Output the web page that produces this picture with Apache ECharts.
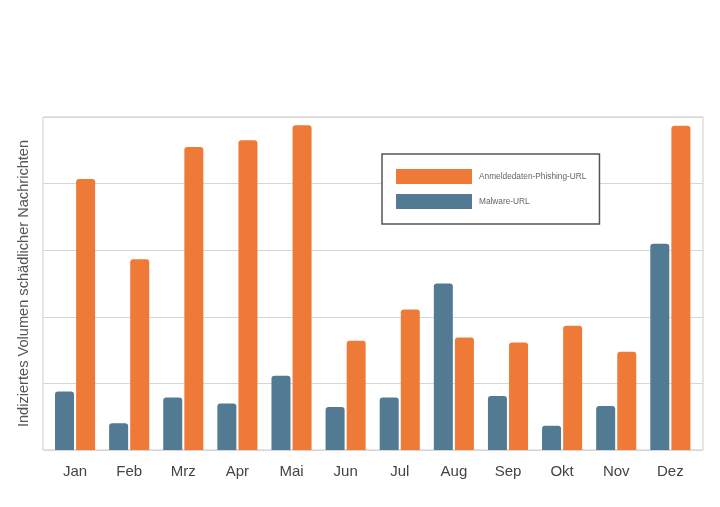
<!DOCTYPE html>
<html>
<head>
<meta charset="utf-8">
<script src="https://cdn.jsdelivr.net/npm/echarts@6/dist/echarts.min.js"></script>
<style>html,body{margin:0;padding:0;background:#fff}#c{width:720px;height:507px}</style>
</head>
<body>
<div id="c"></div>
<script>
var categories = ['Jan','Feb','Mrz','Apr','Mai','Jun','Jul','Aug','Sep','Okt','Nov','Dez'];
var malware = [17.6, 8.0, 15.8, 14.0, 22.3, 12.9, 15.8, 50.0, 16.2, 7.3, 13.2, 61.9];
var phishing = [81.4, 57.3, 91.0, 93.0, 97.5, 32.8, 42.2, 33.8, 32.3, 37.3, 29.5, 97.4];
var yTicks = [0, 20, 40, 60, 80, 100];
var seriesNames = ['Anmeldedaten-Phishing-URL', 'Malware-URL'];

var chart = echarts.init(document.getElementById('c'), null, {renderer: 'canvas'});
var font = '"Liberation Sans", Arial, Helvetica, sans-serif';
chart.setOption({
  animation: false,
  backgroundColor: '#ffffff',
  textStyle: {fontFamily: font},
  legend: {
    data: seriesNames,
    orient: 'vertical',
    left: 382,
    top: 154,
    padding: [15, 13, 15, 14],
    itemWidth: 76,
    itemHeight: 15,
    itemGap: 10,
    icon: 'rect',
    borderColor: '#555555',
    borderWidth: 1.5,
    backgroundColor: '#ffffff',
    textStyle: {fontSize: 8.3, color: '#666666', fontFamily: font, padding: [0, 0, 0, 2]}
  },
  grid: [
    {left: 43, right: 17, top: 117, bottom: 57, show: true, borderColor: '#cccccc', borderWidth: 1, backgroundColor: 'transparent', z: 0},
    {left: 48, right: 22.6, top: 117, bottom: 57}
  ],
  xAxis: [
    {gridIndex: 0, type: 'value', min: 0, max: 1, show: false},
    {gridIndex: 1, type: 'category', data: categories,
     axisLine: {show: false}, axisTick: {show: false},
     axisLabel: {fontSize: 15, color: '#444444', margin: 14, fontFamily: font}}
  ],
  yAxis: [
    {gridIndex: 0, type: 'value', min: yTicks[0], max: yTicks[yTicks.length - 1], interval: 20,
     axisLabel: {show: false}, axisLine: {show: false}, axisTick: {show: false},
     splitLine: {lineStyle: {color: '#d6d6d6', width: 1}},
     name: 'Indiziertes Volumen schädlicher Nachrichten', nameLocation: 'middle', nameGap: 12,
     nameTextStyle: {fontSize: 14.6, color: '#555555', fontFamily: font}},
    {gridIndex: 1, type: 'value', min: yTicks[0], max: yTicks[yTicks.length - 1], interval: 20, show: false, splitLine: {show: false}}
  ],
  series: [
    {name: seriesNames[1], type: 'bar', xAxisIndex: 1, yAxisIndex: 1, data: malware,
     barWidth: 19, barGap: '11%', itemStyle: {color: '#527A93', borderRadius: [3, 3, 0, 0]}},
    {name: seriesNames[0], type: 'bar', xAxisIndex: 1, yAxisIndex: 1, data: phishing,
     barWidth: 19, barGap: '11%', itemStyle: {color: '#EF7A37', borderRadius: [3, 3, 0, 0]}}
  ]
});
</script>
</body>
</html>
